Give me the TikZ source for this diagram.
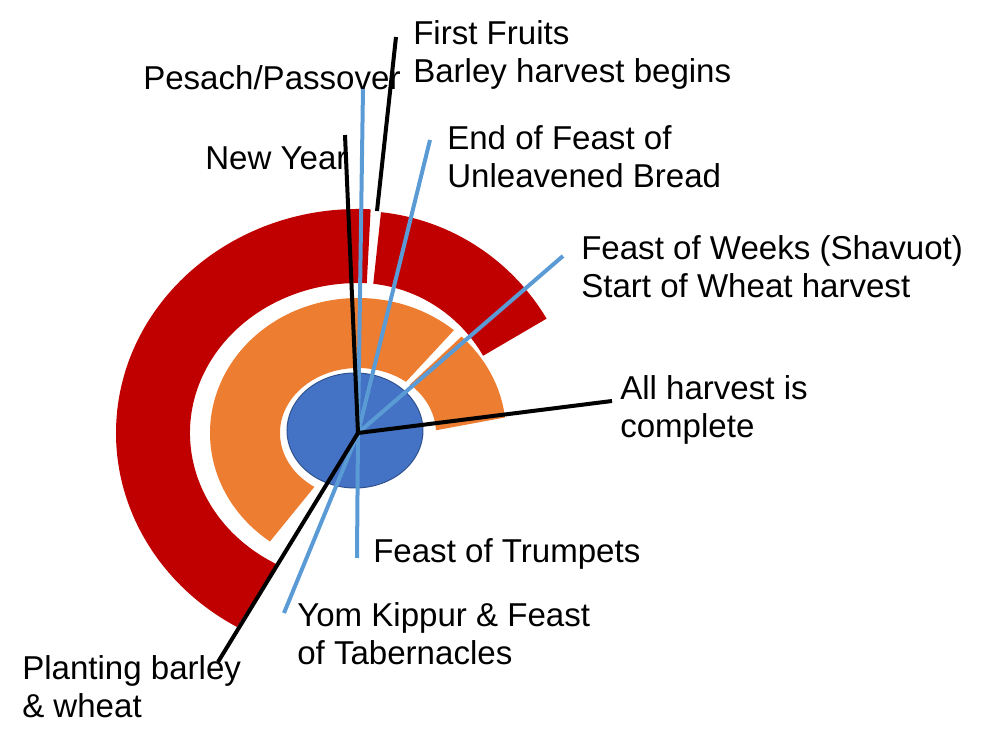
\documentclass[tikz,border=0pt]{standalone}
\usepackage{fontspec}
\setmainfont{Liberation Sans}
\definecolor{ringred}{HTML}{C00000}
\definecolor{ringorange}{HTML}{ED7D31}
\definecolor{discblue}{HTML}{4472C4}
\definecolor{discedge}{HTML}{2F528F}
\definecolor{lineblue}{HTML}{5B9BD5}

\begin{document}
\begin{tikzpicture}[x=0.75pt, y=0.75pt,
        lbl/.style={anchor=base west, inner sep=0pt, align=left,
            font=\fontsize{24.8}{28.5}\selectfont},
        blk/.style={draw=black, line width=3pt},
        blu/.style={draw=lineblue, line width=3pt}]
    \useasboundingbox (-358,-312) rectangle (625,433);

    % red ring, two pieces
    \fill[ringred] (87:242 and 224) arc[start angle=87, end angle=240, x radius=242, y radius=224]
        -- (241:168 and 150) arc[start angle=241, end angle=87, x radius=168, y radius=150] -- cycle;
    \fill[ringred] (31:220 and 222) arc[start angle=31, end angle=84, x radius=220, y radius=222]
        -- (84:146 and 150) arc[start angle=84, end angle=31, x radius=146, y radius=150] -- cycle;

    % orange ring, two pieces
    \fill[ringorange] (49.6:148 and 135) arc[start angle=49.6, end angle=233.5, x radius=148, y radius=135]
        -- (236:78 and 65) arc[start angle=236, end angle=52, x radius=78, y radius=65] -- cycle;
    \fill[ringorange] (6.6:148 and 135) arc[start angle=6.6, end angle=45.6, x radius=148, y radius=135]
        -- (48.2:78 and 65) arc[start angle=48.2, end angle=2.4, x radius=78, y radius=65] -- cycle;

    % centre disc
    \filldraw[fill=discblue, draw=discedge, line width=0.75pt] (-3,2.5) ellipse [x radius=68, y radius=57.5];

    \coordinate (hub) at (0,0);
    \coordinate (nyEnd) at (-13,298);
    \coordinate (psEnd) at (5,345);
    \coordinate (ffTop) at (38,396);
    \coordinate (ffFoot) at (19,222);
    \coordinate (ufEnd) at (72,293);
    \coordinate (wkEnd) at (205,177);
    \coordinate (hvEnd) at (254,32);
    \coordinate (trEnd) at (-1,-125);
    \coordinate (ykEnd) at (-74,-180);
    \coordinate (plEnd) at (-140,-229);

    \draw[blu] (hub) -- (psEnd);
    \draw[blu] (hub) -- (ufEnd);
    \draw[blu] (hub) -- (wkEnd);
    \draw[blu] (hub) -- (trEnd);
    \draw[blu] (hub) -- (ykEnd);
    \draw[blk] (hub) -- (nyEnd);
    \draw[blk] (ffFoot) -- (ffTop);
    \draw[blk] (hub) -- (hvEnd);
    \draw[blk] (hub) -- (plEnd);

    % two-line labels sit on their last baseline
    \node[lbl] (ff) at (55,350) {First Fruits\\Barley harvest begins};
    \node[lbl] (ps) at (-215,343) {Pesach/Passover};
    \node[lbl] (ny) at (-153,263) {New Year};
    \node[lbl] (uf) at (89,245) {End of Feast of\\Unleavened Bread};
    \node[lbl] (wk) at (223,135) {Feast of Weeks (Shavuot)\\Start of Wheat harvest};
    \node[lbl] (hv) at (262,-5) {All harvest is\\complete};
    \node[lbl] (tr) at (15,-130) {Feast of Trumpets};
    \node[lbl] (yk) at (-61,-232) {Yom Kippur \& Feast\\of Tabernacles};
    \node[lbl] (pl) at (-336,-285) {Planting barley\\\& wheat};
\end{tikzpicture}
\end{document}
